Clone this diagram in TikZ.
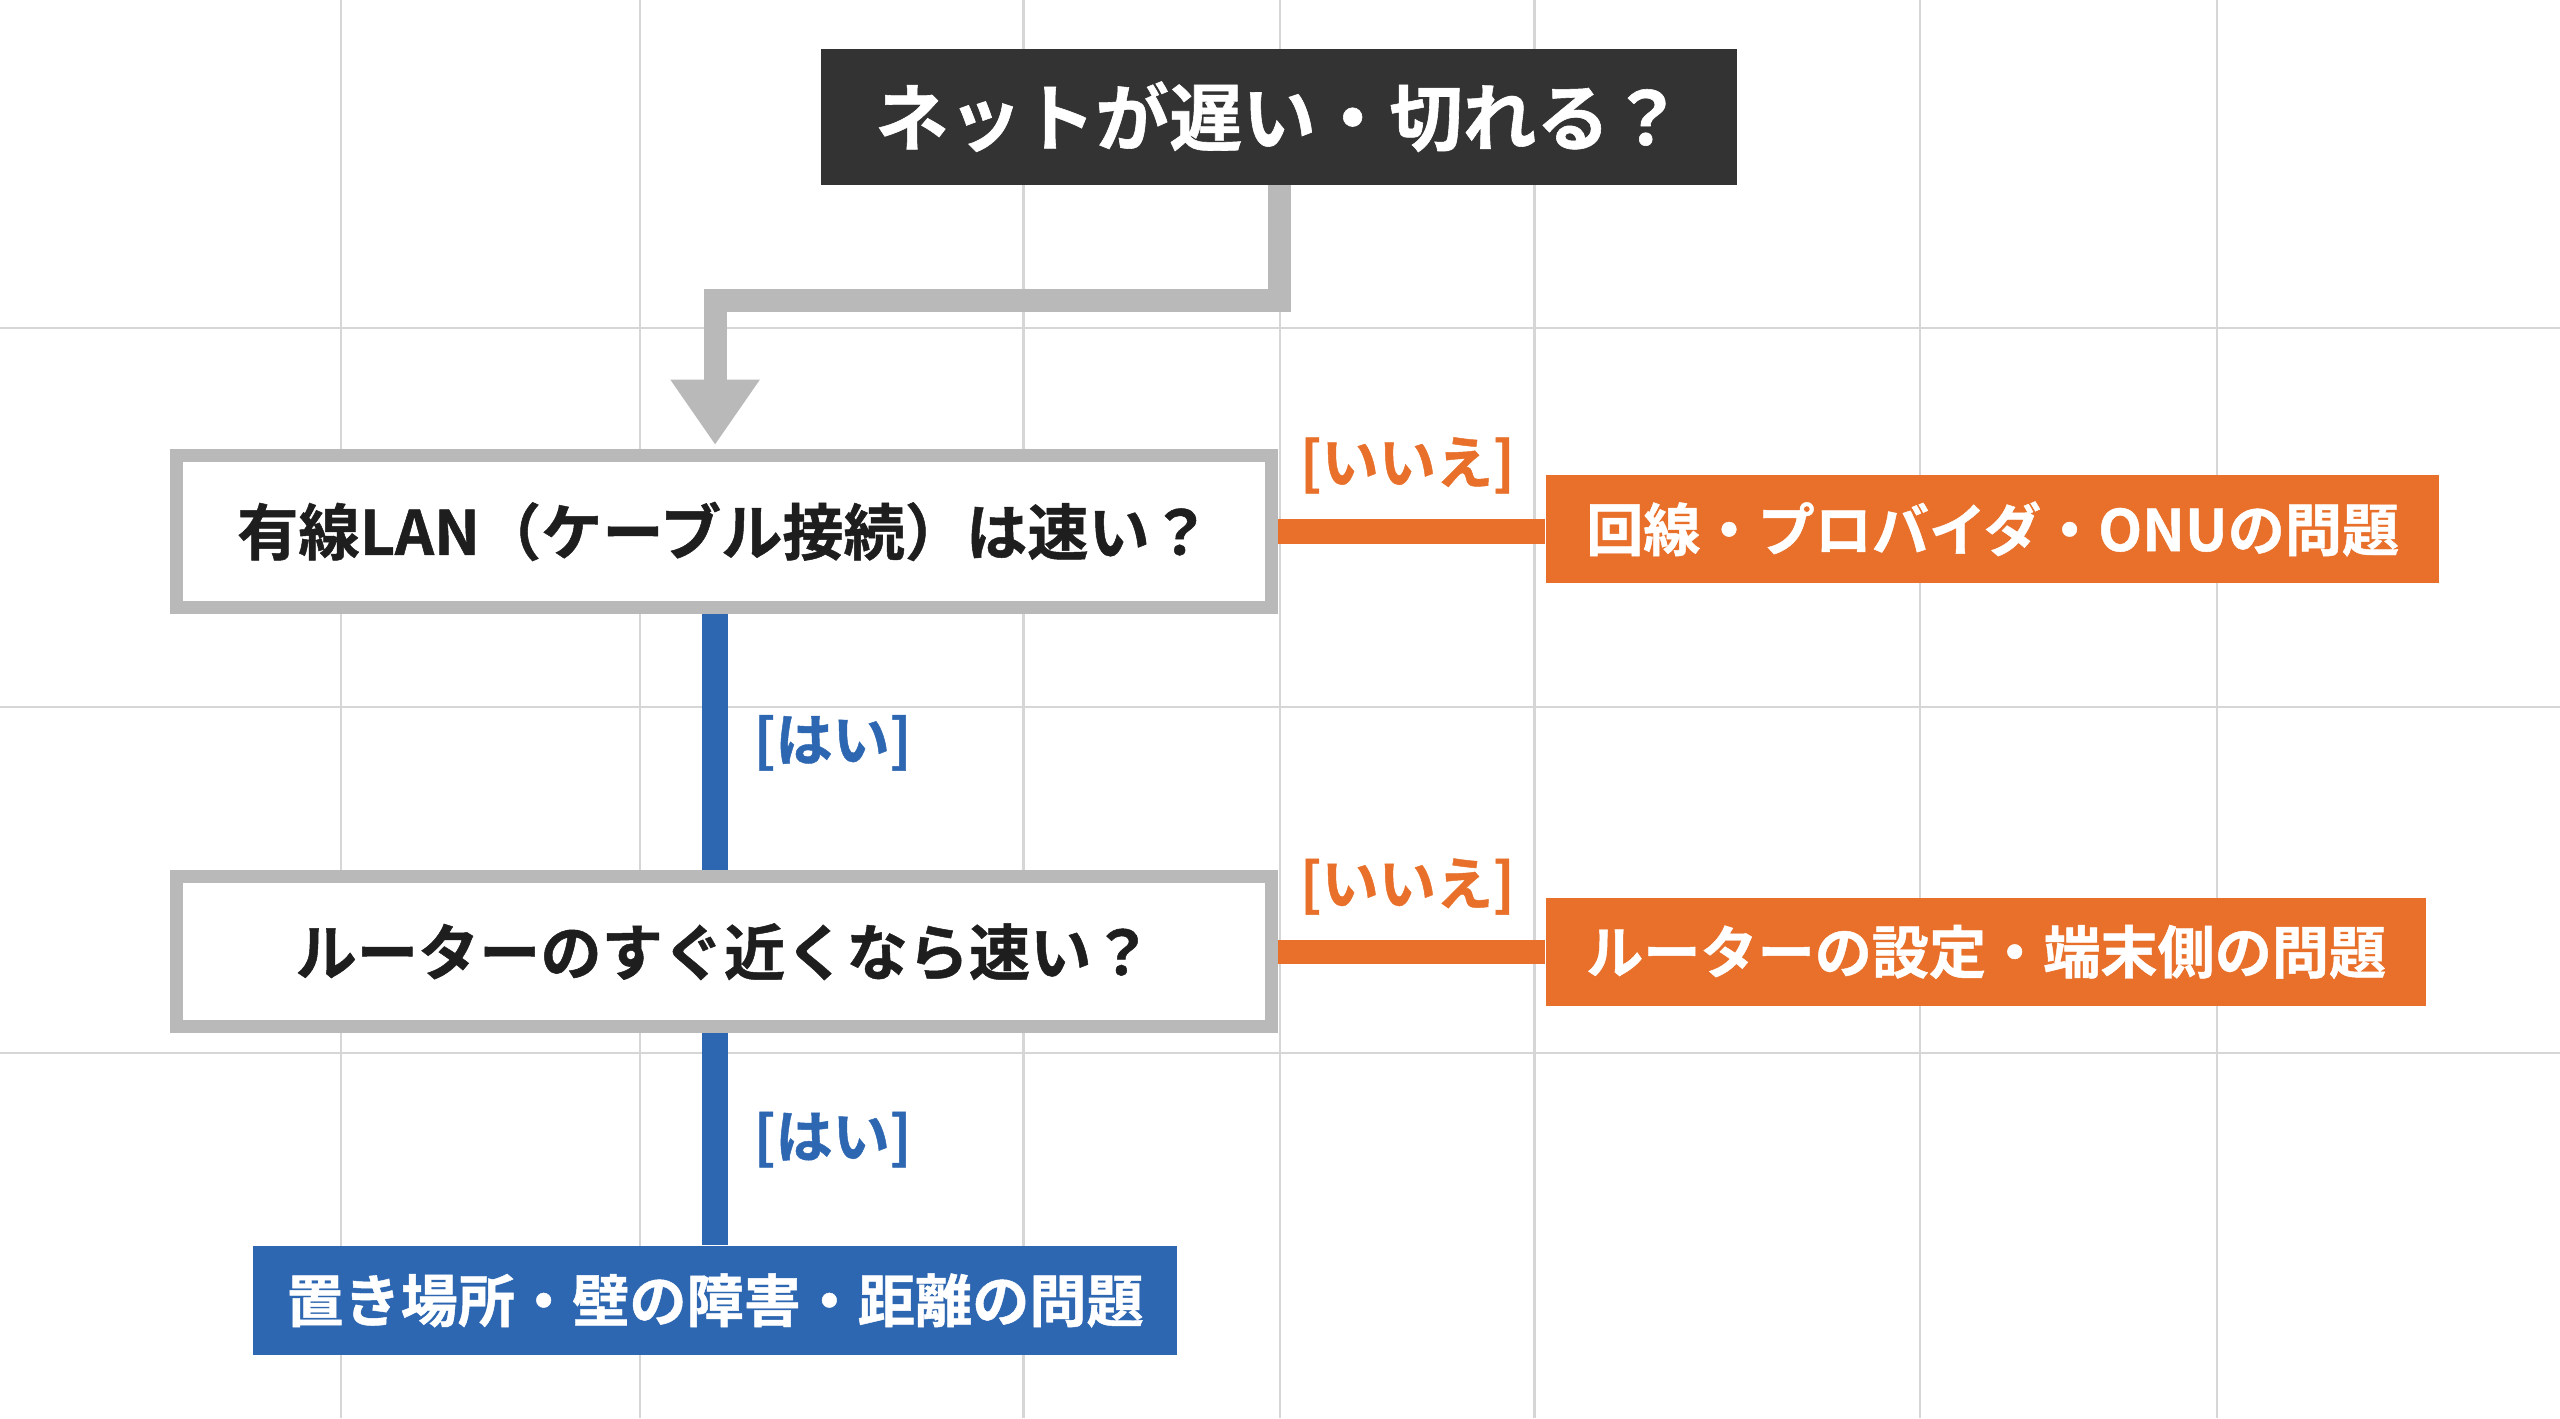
\documentclass[tikz,border=0pt]{standalone}
\usepackage{fontspec}
\setmainfont{Noto Sans CJK JP}[BoldFont={Noto Sans CJK JP Bold}, BoldFeatures={FakeBold=0.8}]
\usetikzlibrary{arrows.meta}
\definecolor{darkbox}{HTML}{333333}
\definecolor{linegray}{HTML}{B9B9B9}
\definecolor{gridgray}{HTML}{D6D6D6}
\definecolor{blueC}{HTML}{2E67B1}
\definecolor{orangeC}{HTML}{E8702A}
\definecolor{textdark}{HTML}{1E1E1E}
\tikzset{
  gridline/.style={draw=gridgray, line width=0.6pt},
  titlebox/.style={fill=darkbox, text=white, font=\bfseries\fontsize{18}{18}\selectfont,
    minimum width=224.4pt, minimum height=33.2pt, inner sep=0pt},
  qbox/.style={fill=white, draw=linegray, line width=3.2pt, text=textdark,
    font=\bfseries\fontsize{15}{15}\selectfont, minimum width=268.4pt, minimum height=37.2pt, inner sep=0pt},
  obox/.style={fill=orangeC, text=white, font=\bfseries\fontsize{14}{14}\selectfont,
    minimum height=26.4pt, inner sep=0pt},
  bbox/.style={fill=blueC, text=white, font=\bfseries\fontsize{14}{14}\selectfont,
    minimum height=26.8pt, inner sep=0pt},
  grayconn/.style={draw=linegray, line width=5.6pt, -{Triangle[length=16pt,width=20.8pt]}, shorten >=1pt},
  blueconn/.style={draw=blueC, line width=6.4pt},
  orangeconn/.style={draw=orangeC, line width=6pt},
  yeslabel/.style={text=blueC, font=\bfseries\fontsize{14}{14}\selectfont, inner sep=0pt},
  nolabel/.style={text=orangeC, font=\bfseries\fontsize{14}{14}\selectfont, inner sep=0pt},
}
\begin{document}
\begin{tikzpicture}[x=0.4pt, y=-0.4pt]
\useasboundingbox (0,0) rectangle (1568,868.6);
\fill[white] (0,0) rectangle (1568,868.6);
% grid
\foreach \gx in {209,392,627,784,940,1176,1358} \draw[gridline] (\gx,0) -- (\gx,868.6);
\foreach \gy in {201,433,645} \draw[gridline] (0,\gy) -- (1568,\gy);
% spine
\coordinate (sp) at (438,0);
\coordinate (turn) at (438,184);
% nodes
\node[titlebox] (top) at (783.5,71.5) {ネットが遅い・切れる？};
\node[qbox] (q1) at (443.5,325.5) {有線LAN（ケーブル接続）は速い？};
\node[qbox, minimum height=36.8pt] (q2) at (443.5,583) {ルーターのすぐ近くなら速い？};
\node[obox, minimum width=218.8pt] (o1) at (1220.5,324) {回線・プロバイダ・ONUの問題};
\node[obox, minimum width=215.6pt] (o2) at (1216.5,583) {ルーターの設定・端末側の問題};
\node[bbox, minimum width=226.4pt] (b1) at (438,796.5) {置き場所・壁の障害・距離の問題};
% connectors
\draw[grayconn] (top.south) |- (turn) -- (q1.north -| turn);
\draw[blueconn] (q1.south -| sp) -- (q2.north -| sp);
\draw[blueconn] (q2.south -| sp) -- (b1.north -| sp);
\draw[orangeconn] (q1.east) -- (o1.west |- q1.east);
\draw[orangeconn] (q2.east) -- (o2.west);
% labels
\node[yeslabel] (y1) at (510,455) {[はい]};
\node[yeslabel] (y2) at (510,698) {[はい]};
\node[nolabel] (n1) at (862,285) {[いいえ]};
\node[nolabel] (n2) at (862,543) {[いいえ]};
\end{tikzpicture}
\end{document}
